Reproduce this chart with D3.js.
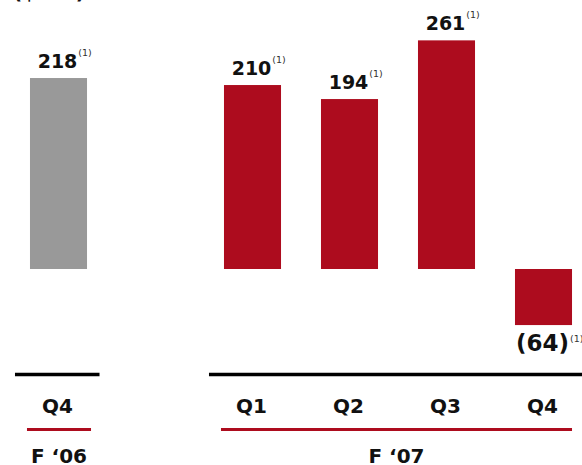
<!DOCTYPE html>
<html>
<head>
<meta charset="utf-8">
<script src="https://cdn.jsdelivr.net/npm/d3@7"></script>
<style>
  body { margin: 0; background: #fff; }
  svg { display: block; font-family: "DejaVu Sans", Verdana, sans-serif; }
</style>
</head>
<body>
<svg id="chart" width="582" height="465"></svg>
<script>
// ---- data ----
const slots = ["F06-Q4", "gap", "F07-Q1", "F07-Q2", "F07-Q3", "F07-Q4"];
const periods = ["F06-Q4", "F07-Q1", "F07-Q2", "F07-Q3", "F07-Q4"];
const quarterLabels = ["Q4", "Q1", "Q2", "Q3", "Q4"];
const values = [218, 210, 194, 261, -64];
const valueLabels = ["218", "210", "194", "261", "(64)"];
const footnotes = ["(1)", "(1)", "(1)", "(1)", "(1)"];
const yearLabels = ["F \u201806", "F \u201807"];
const yearGroups = [["F06-Q4"], ["F07-Q1", "F07-Q2", "F07-Q3", "F07-Q4"]];
const unitLabel = "($MM)";

// ---- styles ----
const RED = "#ad0c1e";
const GRAY = "#999999";

const svg = d3.select("#chart");
const W = 582;

const x = d3.scaleBand().domain(slots).range([10, 592]).paddingInner(0.412).paddingOuter(0.206);
const y = d3.scaleLinear().domain([-100, 300]).range([269 + 87.6, 269 - 262.8]);

// cut-off unit label at top
svg.append("text").attr("x", 13).attr("y", -1.5)
  .attr("font-size", 20).attr("font-weight", "bold").attr("fill", "#111")
  .text(unitLabel);

const data = periods.map((p, i) => ({ p, v: values[i], lab: valueLabels[i], fn: footnotes[i], q: quarterLabels[i] }));

// bars
svg.selectAll("rect.bar").data(data).enter().append("rect")
  .attr("class", "bar")
  .attr("x", d => x(d.p))
  .attr("width", x.bandwidth())
  .attr("y", d => Math.min(y(d.v), y(0)))
  .attr("height", d => Math.abs(y(d.v) - y(0)))
  .attr("fill", (d, i) => i === 0 ? GRAY : RED);

// value labels
data.forEach(d => {
  const cx = x(d.p) + x.bandwidth() / 2;
  const neg = d.v < 0;
  const fs = neg ? 23 : 19;
  const base = neg ? y(d.v) + 26 : y(d.v) - 10.5;
  const t = svg.append("text")
    .attr("x", cx - 1).attr("y", base)
    .attr("text-anchor", "middle")
    .attr("font-size", fs).attr("font-weight", "bold").attr("fill", "#111")
    .text(d.lab);
  const w = t.node().getComputedTextLength();
  svg.append("text")
    .attr("x", cx - 1 + w / 2 + 1)
    .attr("y", base - (neg ? 9.5 : 12))
    .attr("font-size", 9.5).attr("fill", "#333")
    .text(d.fn);
});

// black axis lines
const blackLines = [
  [x("F06-Q4") - 15, x("F06-Q4") + x.bandwidth() + 12.5],
  [x("F07-Q1") - 15, W]
];
blackLines.forEach(([a, b]) => {
  svg.append("line").attr("x1", a).attr("x2", b).attr("y1", 374.5).attr("y2", 374.5)
    .attr("stroke", "#000").attr("stroke-width", 3.5);
});

// quarter labels
svg.selectAll("text.q").data(data).enter().append("text")
  .attr("class", "q")
  .attr("x", d => x(d.p) + x.bandwidth() / 2 - 1)
  .attr("y", 412.5)
  .attr("text-anchor", "middle")
  .attr("font-size", 20).attr("font-weight", "bold").attr("fill", "#111")
  .text(d => d.q);

// red group lines + year labels
yearGroups.forEach((g, i) => {
  const a = x(g[0]) - 3;
  const b = x(g[g.length - 1]) + x.bandwidth() + (i === 0 ? 4 : 0);
  svg.append("line").attr("x1", a).attr("x2", b).attr("y1", 429.5).attr("y2", 429.5)
    .attr("stroke", RED).attr("stroke-width", 3);
  svg.append("text")
    .attr("x", (a + b) / 2).attr("y", 463)
    .attr("text-anchor", "middle")
    .attr("font-size", 20).attr("font-weight", "bold").attr("fill", "#111")
    .text(yearLabels[i]);
});
</script>
</body>
</html>
